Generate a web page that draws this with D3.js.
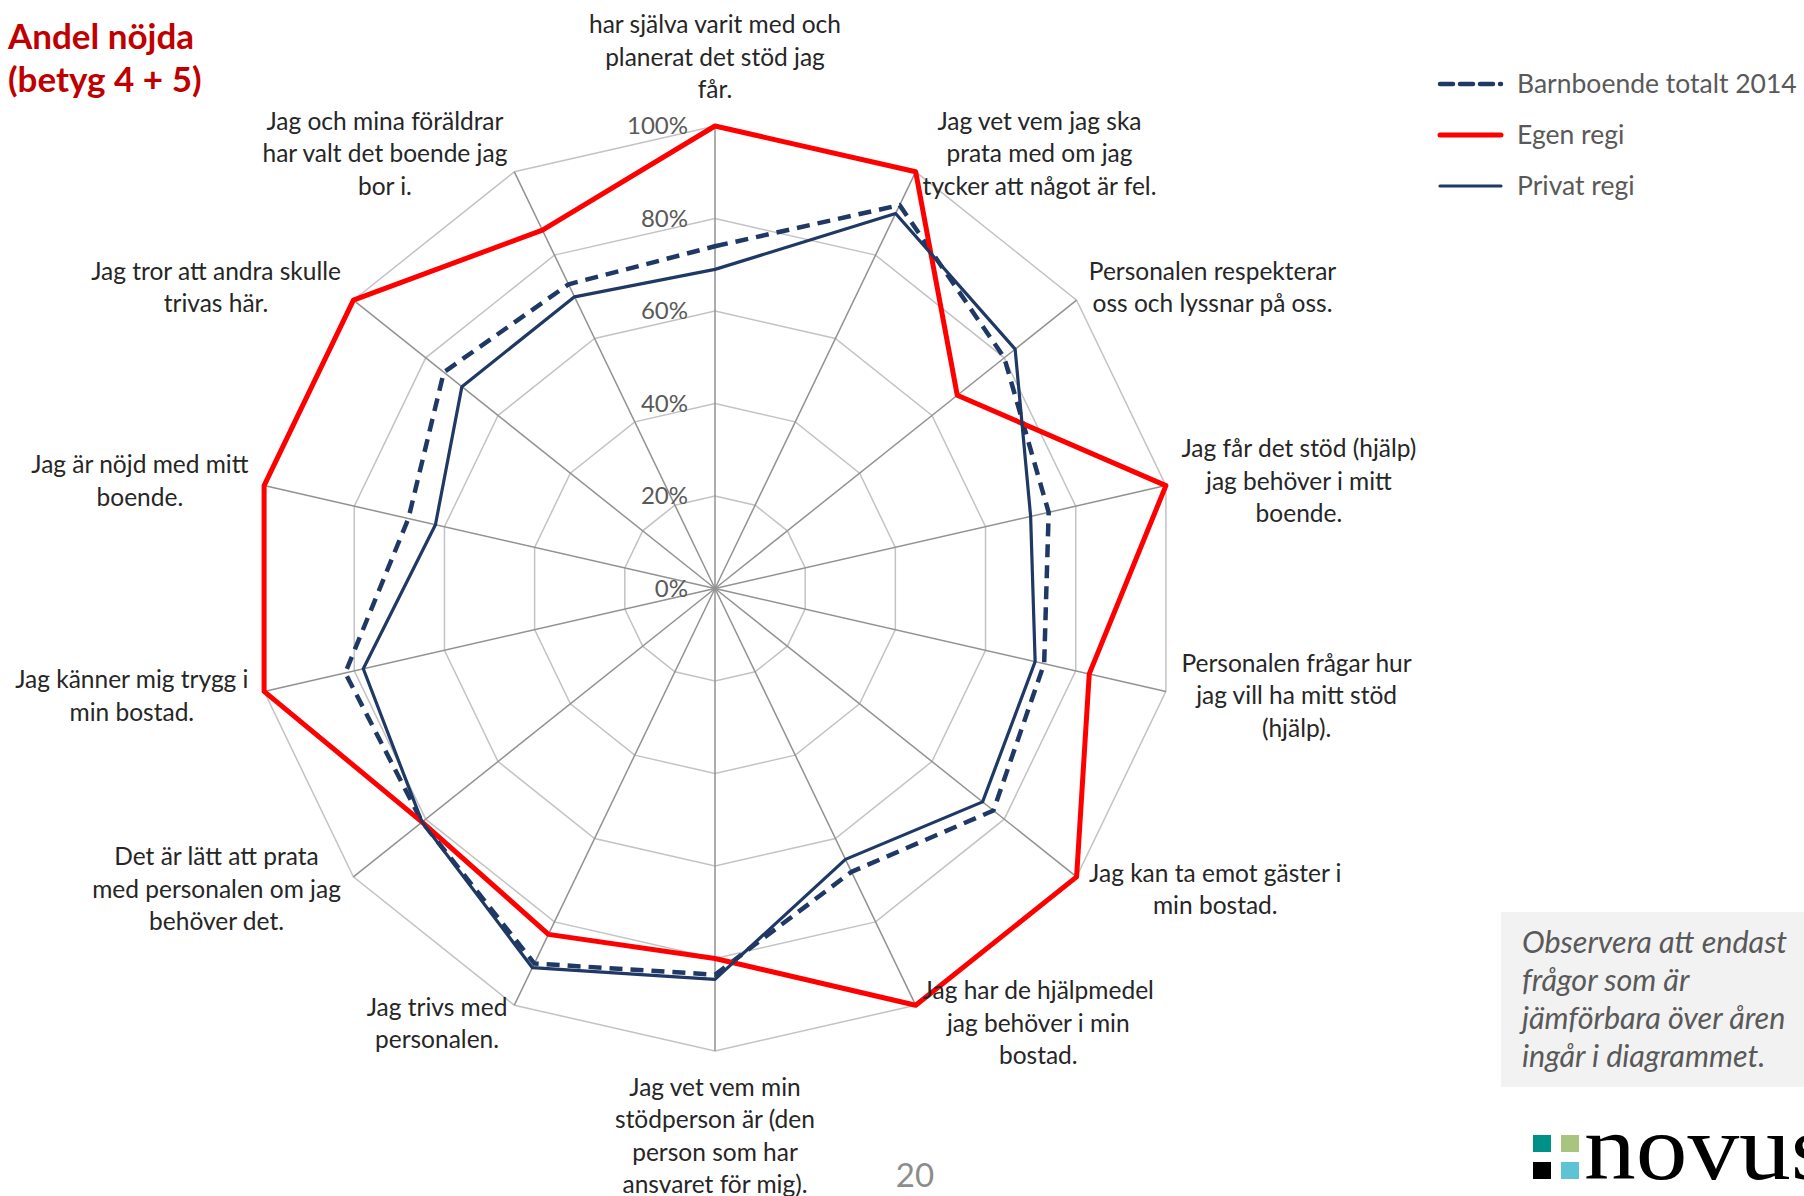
<!DOCTYPE html>
<html>
<head>
<meta charset="utf-8">
<script src="https://cdn.jsdelivr.net/npm/d3@7"></script>
<style>
  body { margin: 0; background: #fff; }
  svg { display: block; font-family: Lato, "Open Sans", sans-serif; }
</style>
</head>
<body>
<svg id="chart" width="1804" height="1196"></svg>
<script>
// questions, clockwise from the top
const categories = [
  ["Jag och mina föräldrar", "har själva varit med och", "planerat det stöd jag", "får."],
  ["Jag vet vem jag ska", "prata med om jag", "tycker att något är fel."],
  ["Personalen respekterar", "oss och lyssnar på oss."],
  ["Jag får det stöd (hjälp)", "jag behöver i mitt", "boende."],
  ["Personalen frågar hur", "jag vill ha mitt stöd", "(hjälp)."],
  ["Jag kan ta emot gäster i", "min bostad."],
  ["Jag har de hjälpmedel", "jag behöver i min", "bostad."],
  ["Jag vet vem min", "stödperson är (den", "person som har", "ansvaret för mig)."],
  ["Jag trivs med", "personalen."],
  ["Det är lätt att prata", "med personalen om jag", "behöver det."],
  ["Jag känner mig trygg i", "min bostad."],
  ["Jag är nöjd med mitt", "boende."],
  ["Jag tror att andra skulle", "trivas här."],
  ["Jag och mina föräldrar", "har valt det boende jag", "bor i."]
];

const barnboendeTotalt = [0.74, 0.92, 0.80, 0.74, 0.73, 0.77, 0.68, 0.835, 0.90, 0.81, 0.82, 0.68, 0.75, 0.73];
const egenRegi        = [1.00, 1.00, 0.67, 1.00, 0.83, 1.00, 1.00, 0.80, 0.83, 0.81, 1.00, 1.00, 1.00, 0.86];
const privatRegi      = [0.69, 0.90, 0.83, 0.70, 0.71, 0.74, 0.65, 0.845, 0.91, 0.81, 0.78, 0.62, 0.70, 0.70];

const tickValues = [0, 0.2, 0.4, 0.6, 0.8, 1];
const seriesNames = ["Barnboende totalt 2014", "Egen regi", "Privat regi"];

const svg = d3.select("#chart");
const cx = 715, cy = 588.5, R = 462.5;
const n = categories.length;

const r = d3.scaleLinear().domain([0, 1]).range([0, R]);
const angle = d3.scalePoint().domain(d3.range(n + 1)).range([0, 2 * Math.PI]);
const pt = (i, v) => [cx + r(v) * Math.sin(angle(i)), cy - r(v) * Math.cos(angle(i))];

const g = svg.append("g");

// rings
tickValues.slice(1).forEach(t => {
  g.append("polygon")
    .attr("points", d3.range(n).map(i => pt(i, t).join(",")).join(" "))
    .attr("fill", "none")
    .attr("stroke", "#c3c3c3")
    .attr("stroke-width", 1.5);
});

// spokes
d3.range(n).forEach(i => {
  const p = pt(i, 1);
  g.append("line")
    .attr("x1", cx).attr("y1", cy).attr("x2", p[0]).attr("y2", p[1])
    .attr("stroke", "#929292")
    .attr("stroke-width", 1.5);
});

// tick labels
tickValues.forEach(t => {
  g.append("text")
    .attr("x", cx - 27)
    .attr("y", cy - r(t))
    .attr("dy", "0.35em")
    .attr("text-anchor", "end")
    .attr("font-size", 24)
    .attr("fill", "#595959")
    .text(d3.format(".0%")(t));
});

// series
const line = d3.lineRadial()
  .angle((d, i) => angle(i))
  .radius(d => r(d))
  .curve(d3.curveLinearClosed);

const series = [
  { values: barnboendeTotalt, color: "#1f3864", width: 4.5, dash: "13,8" },
  { values: egenRegi, color: "#ff0000", width: 5, dash: null },
  { values: privatRegi, color: "#1f3864", width: 3.2, dash: null }
];

series.forEach(s => {
  g.append("path")
    .attr("transform", `translate(${cx},${cy})`)
    .attr("d", line(s.values))
    .attr("fill", "none")
    .attr("stroke", s.color)
    .attr("stroke-width", s.width)
    .attr("stroke-dasharray", s.dash)
    .attr("stroke-linejoin", "round");
});

// category labels
const lh = 32.5;
categories.forEach((lines, i) => {
  const a = angle(i);
  const sx = Math.sin(a), sy = -Math.cos(a);
  const p = pt(i, 1);
  const t = svg.append("text")
    .attr("font-size", 24.5)
    .attr("fill", "#262626")
    .attr("text-anchor", "middle");
  lines.forEach(l => t.append("tspan").text(l));
  const hw = d3.max(t.selectAll("tspan").nodes(), nd => nd.getComputedTextLength()) / 2;
  const hh = lines.length * lh / 2;
  let bx = p[0] + 16 * sx, by = p[1] + 20 * sy;
  if (Math.abs(sx) > 0.01) bx += Math.sign(sx) * hw;
  else by += Math.sign(sy) * hh;
  t.selectAll("tspan")
    .attr("x", bx)
    .attr("y", (d, j) => by + (j - (lines.length - 1) / 2) * lh - (j === 0 && lines.length === 4 && sy < 0 ? 6 : 0))
    .attr("dy", "0.35em");
});

// title
svg.append("text")
  .attr("x", 8).attr("font-size", 35).attr("font-weight", "bold").attr("fill", "#c00000")
  .selectAll("tspan").data(["Andel nöjda", "(betyg 4 + 5)"]).join("tspan")
  .attr("x", 8).attr("y", (d, i) => 37 + i * 43).attr("dy", "0.35em")
  .text(d => d);

// legend
const legend = svg.append("g").attr("transform", "translate(1440,84)");
[series[0], series[1], series[2]].forEach((s, i) => {
  const row = legend.append("g").attr("transform", `translate(0,${i * 51})`);
  row.append("line")
    .attr("x1", 0).attr("x2", 61).attr("y1", 0).attr("y2", 0)
    .attr("stroke", s.color)
    .attr("stroke-width", s.width)
    .attr("stroke-dasharray", s.dash ? "13,7" : null)
    .attr("stroke-linecap", "round");
  row.append("text")
    .attr("x", 77).attr("dy", "0.35em")
    .attr("font-size", 26.5).attr("fill", "#595959")
    .text(seriesNames[i]);
});

// note box
svg.append("rect")
  .attr("x", 1501).attr("y", 912).attr("width", 303).attr("height", 175)
  .attr("fill", "#f2f2f2");
svg.append("text")
  .attr("font-size", 30.5).attr("font-style", "italic").attr("fill", "#595959")
  .selectAll("tspan")
  .data(["Observera att endast", "frågor som är", "jämförbara över åren", "ingår i diagrammet."])
  .join("tspan")
  .attr("x", 1522).attr("y", (d, i) => 942 + i * 38).attr("dy", "0.35em")
  .text(d => d);

// page number
svg.append("text")
  .attr("x", 915).attr("y", 1175).attr("dy", "0.35em")
  .attr("text-anchor", "middle")
  .attr("font-size", 33).attr("fill", "#8c8c8c")
  .text("20");

// novus logo
const logo = svg.append("g");
[["#00908a", 1533, 1135], ["#a9c47f", 1561, 1135], ["#000000", 1533, 1162], ["#5dc4d4", 1561, 1162]]
  .forEach(([c, x, y]) => logo.append("rect").attr("x", x).attr("y", y).attr("width", 18).attr("height", 17).attr("fill", c));
logo.append("text")
  .attr("transform", "translate(1584,1179) scale(1.1,1)")
  .attr("font-family", "'Liberation Serif', 'DejaVu Serif', serif")
  .attr("font-size", 94)
  .attr("fill", "#000")
  .text("novus");
</script>
</body>
</html>
